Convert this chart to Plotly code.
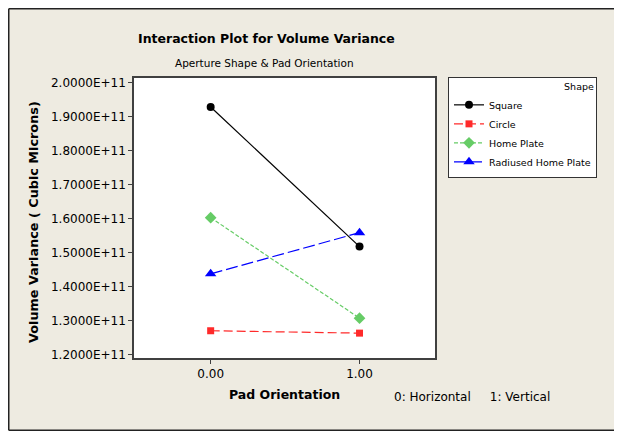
import plotly.graph_objects as go

# Pad orientation levels (0 = horizontal, 1 = vertical)
pad_orientation = [0, 1]

shape_names = ["Square", "Circle", "Home Plate", "Radiused Home Plate"]
square_vals = [1.928e11, 1.518e11]
circle_vals = [1.271e11, 1.264e11]
home_plate_vals = [1.603e11, 1.308e11]
radiused_vals = [1.438e11, 1.559e11]

y_tick_vals = [1.2e11, 1.3e11, 1.4e11, 1.5e11, 1.6e11, 1.7e11, 1.8e11, 1.9e11, 2.0e11]
y_tick_text = ["1.2000E+11", "1.3000E+11", "1.4000E+11", "1.5000E+11", "1.6000E+11",
               "1.7000E+11", "1.8000E+11", "1.9000E+11", "2.0000E+11"]
x_tick_text = ["0.00", "1.00"]

FONT = "DejaVu Sans"
BG = "#EEEBE1"

series = [
    (square_vals, "black", "solid", "circle", 8),
    (circle_vals, "#FF2A2A", "9px,4px", "square", 7),
    (home_plate_vals, "#66CC66", "4px,2px", "diamond", 9),
    (radiused_vals, "#0000FF", "12px,4px", "triangle-up", 10),
]

fig = go.Figure()
for name, (vals, color, dash, symbol, size) in zip(shape_names, series):
    fig.add_trace(
        go.Scatter(
            x=pad_orientation,
            y=vals,
            mode="lines+markers",
            name=name,
            line=dict(color=color, width=1.2, dash=dash),
            marker=dict(symbol=symbol, size=size, color=color),
        )
    )

# page body has an 8px margin, so keep the figure inside the window (no scrollbars)
OFF = 8
W, H = 606, 423
L, T = 134 - OFF, 78 - OFF
R = W - (435 - OFF)
B = H - (358 - OFF)
pw, ph = W - L - R, H - T - B


def px(x):
    # screen x -> paper x
    return (x - OFF - L) / pw


def py(y):
    # screen y -> paper y
    return (H - B - (y - OFF)) / ph


fig.update_layout(
    width=W,
    height=H,
    margin=dict(l=L, r=R, t=T, b=B),
    paper_bgcolor=BG,
    plot_bgcolor="white",
    font=dict(family=FONT, size=12, color="black"),
    showlegend=True,
    legend=dict(
        x=px(448), y=py(77), xanchor="left", yanchor="top",
        bgcolor="white", bordercolor="#333333", borderwidth=1,
        font=dict(size=9.5),
        title=dict(text="Shape", side="top right", font=dict(size=9.5)),
        itemwidth=30,
        tracegroupgap=0,
    ),
)
fig.update_xaxes(
    range=[-0.515, 1.507],
    tickvals=pad_orientation,
    ticktext=x_tick_text,
    showgrid=False, zeroline=False,
    showline=True, linecolor="#404040", linewidth=1.5, mirror=True,
    ticks="outside", ticklen=4, tickcolor="#404040",
    tickfont=dict(size=12),
)
fig.update_yaxes(
    range=[1.191e11, 2.013e11],
    tickvals=y_tick_vals,
    ticktext=y_tick_text,
    showgrid=False, zeroline=False,
    showline=True, linecolor="#404040", linewidth=1.5, mirror=True,
    ticks="outside", ticklen=4, tickcolor="#404040",
    tickfont=dict(size=12),
)

annotations = [
    dict(text="<b>Interaction Plot for Volume Variance</b>", x=px(266), y=py(38),
         font=dict(size=12.5)),
    dict(text="Aperture Shape & Pad Orientation", x=px(264), y=py(63),
         font=dict(size=10.5)),
    dict(text="<b>Volume Variance ( Cubic Microns)</b>", x=px(33), y=py(222),
         textangle=-90, font=dict(size=12.8)),
    dict(text="<b>Pad Orientation</b>", x=px(284), y=py(394), font=dict(size=12.5)),
    dict(text="0: Horizontal" + "\u00a0" * 5 + "1: Vertical", x=px(472), y=py(397),
         font=dict(size=12)),
]
for a in annotations:
    fig.add_annotation(xref="paper", yref="paper", showarrow=False,
                       xanchor="center", yanchor="middle", **a)

# outer frame: dark border on left, top and bottom only
frame = dict(type="line", xref="paper", yref="paper", layer="above",
             line=dict(color="#222222", width=1.5))
top, bottom, left = OFF + 0.75, OFF + H - 0.75, OFF + 0.75
fig.add_shape(x0=px(left), x1=px(OFF + W), y0=py(top), y1=py(top), **frame)
fig.add_shape(x0=px(left), x1=px(OFF + W), y0=py(bottom), y1=py(bottom), **frame)
fig.add_shape(x0=px(left), x1=px(left), y0=py(top), y1=py(bottom), **frame)

fig.write_html("out.html")
